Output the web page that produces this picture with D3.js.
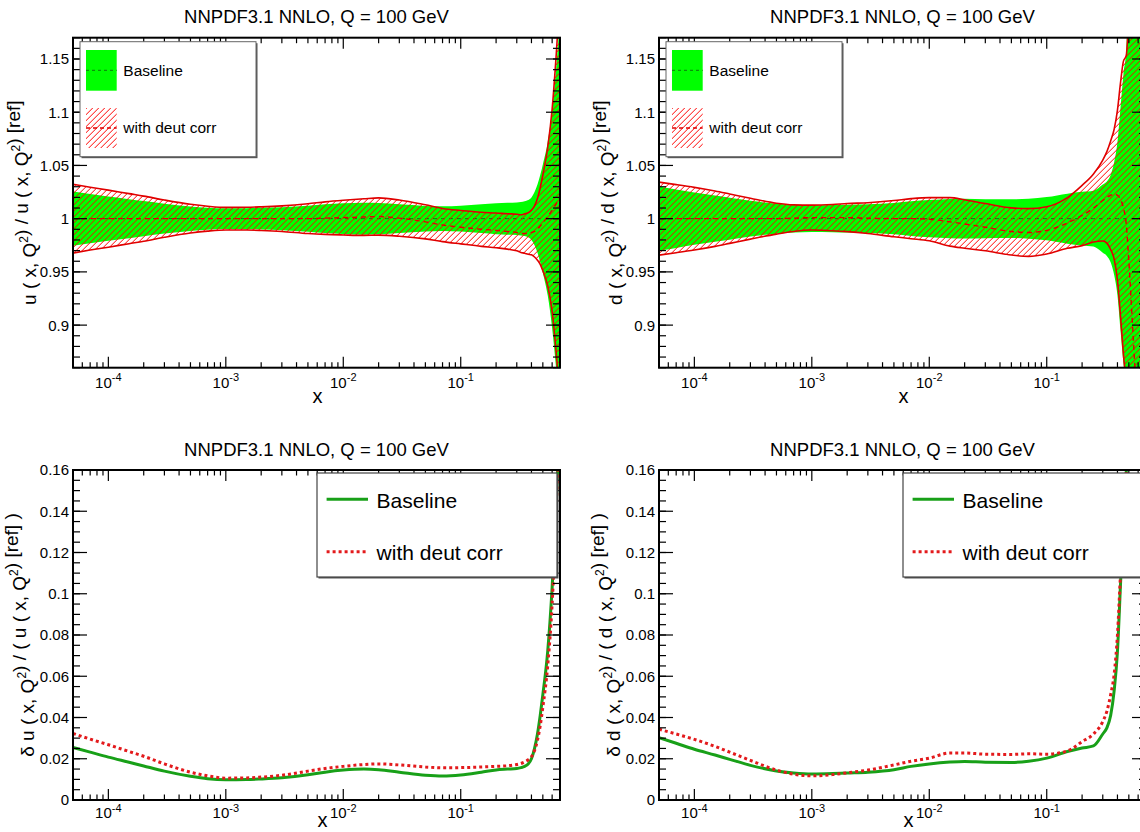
<!DOCTYPE html>
<html><head><meta charset="utf-8">
<script src="https://cdn.jsdelivr.net/npm/d3@7"></script>
<style>
body{margin:0;background:#fff}
svg{display:block}
text{font-family:"Liberation Sans",Arial,Helvetica,sans-serif;fill:#000}
</style></head>
<body><svg id="c" width="1140" height="832"></svg>
<script>
// ---------------- data ----------------
const xGrid = [5e-5, 7e-5, 1e-4, 1.5e-4, 2e-4, 3e-4, 5e-4, 7e-4, 1e-3, 1.5e-3, 2e-3, 3e-3, 5e-3, 7e-3,
  1e-2, 1.5e-2, 2e-2, 3e-2, 5e-2, 7e-2, 0.1, 0.15, 0.2, 0.25, 0.3, 0.325, 0.35, 0.375, 0.4, 0.425,
  0.45, 0.475, 0.5, 0.55, 0.6, 0.65, 0.7];

// u quark: relative uncertainties and central ratio
const uBaseErr = [0.0255, 0.0232, 0.0208, 0.0183, 0.0165, 0.0140, 0.0115, 0.0103, 0.0098, 0.0099, 0.0102, 0.0108, 0.0122, 0.0135,
  0.0145, 0.0150, 0.0147, 0.0135, 0.0120, 0.0116, 0.0121, 0.0135, 0.0146, 0.0150, 0.0153, 0.0157, 0.0163, 0.0175, 0.0200, 0.0250,
  0.032, 0.041, 0.051, 0.072, 0.103, 0.142, 0.19];
const uDeutErr = [0.0323, 0.0295, 0.0268, 0.0235, 0.0212, 0.0175, 0.0135, 0.0117, 0.0106, 0.0107, 0.0111, 0.0120, 0.0140, 0.0153,
  0.0163, 0.0172, 0.0175, 0.0170, 0.0160, 0.0156, 0.0157, 0.0160, 0.0163, 0.0166, 0.0172, 0.0177, 0.0185, 0.0195, 0.0210, 0.0240,
  0.029, 0.036, 0.045, 0.065, 0.095, 0.14, 0.19];
const uDeutCentral = [1.0, 1.0, 1.0, 1.0, 1.0, 1.0, 1.0, 1.0, 1.0, 1.0, 1.0, 1.0, 1.0, 1.0005,
  1.001, 1.0015, 1.002, 1.0005, 0.997, 0.994, 0.992, 0.990, 0.989, 0.988, 0.987, 0.986, 0.986, 0.986, 0.987, 0.988,
  0.990, 0.993, 0.996, 1.002, 1.008, 1.014, 1.02];

// d quark
const dBaseErr = [0.0302, 0.0275, 0.0246, 0.0218, 0.0197, 0.0168, 0.0141, 0.0131, 0.0126, 0.0128, 0.0131, 0.0135, 0.0147, 0.0163,
  0.0175, 0.0184, 0.0187, 0.0183, 0.0182, 0.0188, 0.0203, 0.0235, 0.0252, 0.0262, 0.032, 0.035, 0.041, 0.053, 0.072, 0.105,
  0.136, 0.158, 0.24, 0.38, 0.52, 0.68, 0.85];
const dDeutErr = [0.0343, 0.0320, 0.0294, 0.0260, 0.0232, 0.0192, 0.0145, 0.0125, 0.0117, 0.0123, 0.0132, 0.0145, 0.0170, 0.0188,
  0.0203, 0.0228, 0.0228, 0.0222, 0.0221, 0.0224, 0.0222, 0.0238, 0.0283, 0.032, 0.038, 0.043, 0.051, 0.061, 0.080, 0.110,
  0.138, 0.158, 0.23, 0.40, 0.55, 0.70, 0.85];
const dDeutCentral = [1.0, 1.0, 1.0, 1.0, 1.0, 1.0, 1.0, 1.0005, 1.001, 1.001, 1.001, 1.0005, 1.0, 1.0,
  0.9995, 0.997, 0.995, 0.992, 0.988, 0.987, 0.989, 0.996, 1.003, 1.010, 1.017, 1.020, 1.022, 1.023, 1.022, 1.018,
  1.010, 0.995, 0.96, 0.88, 0.81, 0.75, 0.70];

const xDomain = [5e-5, 0.7];
const xTickValues = [1e-4, 1e-3, 1e-2, 1e-1];
const xTickExponents = ["-4", "-3", "-2", "-1"];
const ratioDomain = [0.86, 1.17];
const ratioTicks = [0.9, 0.95, 1, 1.05, 1.1, 1.15];
const ratioTickLabels = ["0.9", "0.95", "1", "1.05", "1.1", "1.15"];
const relDomain = [0, 0.16];
const relTicks = [0, 0.02, 0.04, 0.06, 0.08, 0.1, 0.12, 0.14, 0.16];
const relTickLabels = ["0", "0.02", "0.04", "0.06", "0.08", "0.1", "0.12", "0.14", "0.16"];
const titleText = "NNPDF3.1 NNLO, Q = 100 GeV";
const seriesNames = ["Baseline", "with deut corr"];

// ---------------- layout ----------------
const W = 487, H = 330;
const svg = d3.select("#c");
const defs = svg.append("defs");
const pat = defs.append("pattern").attr("id", "hatch").attr("patternUnits", "userSpaceOnUse")
  .attr("width", 6).attr("height", 6);
pat.append("path").attr("d", "M-1,1 L1,-1 M0,6 L6,0 M5,7 L7,5")
  .attr("stroke", "#ff0000").attr("stroke-width", 1).attr("fill", "none");

const GREEN_FILL = "#00ff00", GREEN_DASH = "#0a7a0a", RED = "#e00000", GREEN_LINE = "#18a018", RED_DOT = "#e31a1c";

const panels = [
  {id: 0, x0: 73, y0: 37.7, kind: "ratio", q: "u", base: uBaseErr, deut: uDeutErr, cen: uDeutCentral},
  {id: 1, x0: 659, y0: 37.7, kind: "ratio", q: "d", base: dBaseErr, deut: dDeutErr, cen: dDeutCentral},
  {id: 2, x0: 73, y0: 470, kind: "rel", q: "u", base: uBaseErr, deut: uDeutErr, cen: uDeutCentral},
  {id: 3, x0: 659, y0: 470, kind: "rel", q: "d", base: dBaseErr, deut: dDeutErr, cen: dDeutCentral}
];

function addRich(textSel, segs, supSize, supShift) {
  segs.forEach(s => {
    if (s.sup) {
      textSel.append("tspan").attr("dy", -supShift).attr("font-size", supSize).text(s.t);
      textSel.append("tspan").attr("dy", supShift).text("");
    } else textSel.append("tspan").text(s.t);
  });
}

panels.forEach(p => {
  const g = svg.append("g").attr("transform", `translate(${p.x0},${p.y0})`);
  const x = d3.scaleLog().domain(xDomain).range([0, W]);
  const y = d3.scaleLinear().domain(p.kind === "ratio" ? ratioDomain : relDomain).range([H, 0]);
  const clipId = "clip" + p.id;
  defs.append("clipPath").attr("id", clipId).append("rect").attr("width", W).attr("height", H);
  const plot = g.append("g").attr("clip-path", `url(#${clipId})`);

  if (p.kind === "ratio") {
    const base = xGrid.map((v, i) => ({x: v, lo: 1 - p.base[i], hi: 1 + p.base[i], c: 1}));
    const deut = xGrid.map((v, i) => ({x: v, lo: p.cen[i] - p.deut[i], hi: p.cen[i] + p.deut[i], c: p.cen[i]}));
    const area = d3.area().x(d => x(d.x)).y0(d => y(d.lo)).y1(d => y(d.hi)).curve(d3.curveMonotoneX);
    const line = acc => d3.line().x(d => x(d.x)).y(d => y(acc(d))).curve(d3.curveMonotoneX);
    plot.append("path").attr("d", area(base)).attr("fill", GREEN_FILL);
    plot.append("path").attr("d", line(d => d.c)(base)).attr("fill", "none")
      .attr("stroke", GREEN_DASH).attr("stroke-width", 1).attr("stroke-dasharray", "4,4");
    plot.append("path").attr("d", area(deut)).attr("fill", "url(#hatch)");
    plot.append("path").attr("d", line(d => d.c)(deut)).attr("fill", "none")
      .attr("stroke", RED).attr("stroke-width", 1.4).attr("stroke-dasharray", "5,4");
    ["lo", "hi"].forEach(k => plot.append("path").attr("d", line(d => d[k])(deut)).attr("fill", "none")
      .attr("stroke", RED).attr("stroke-width", 1.6));
  } else {
    const mk = arr => xGrid.map((v, i) => ({x: v, v: arr[i]}));
    const line = d3.line().x(d => x(d.x)).y(d => y(d.v)).curve(d3.curveMonotoneX);
    plot.append("path").attr("d", line(mk(p.base))).attr("fill", "none")
      .attr("stroke", GREEN_LINE).attr("stroke-width", 3);
    plot.append("path").attr("d", line(mk(p.deut))).attr("fill", "none")
      .attr("stroke", RED_DOT).attr("stroke-width", 3).attr("stroke-dasharray", "3,3");
  }

  // ticks
  const tk = g.append("g").attr("stroke", "#000").attr("stroke-width", 1.2);
  xTickValues.forEach(v => {
    const px = x(v);
    tk.append("line").attr("x1", px).attr("x2", px).attr("y1", H).attr("y2", H - 11);
    tk.append("line").attr("x1", px).attr("x2", px).attr("y1", 0).attr("y2", 11);
  });
  for (let e = -5; e <= -1; e++) for (let k = 2; k <= 9; k++) {
    const v = k * Math.pow(10, e);
    if (v < xDomain[0] || v > xDomain[1]) continue;
    const px = x(v);
    tk.append("line").attr("x1", px).attr("x2", px).attr("y1", H).attr("y2", H - 5.5);
    tk.append("line").attr("x1", px).attr("x2", px).attr("y1", 0).attr("y2", 5.5);
  }
  const yt = p.kind === "ratio" ? ratioTicks : relTicks;
  const minorStep = p.kind === "ratio" ? 0.01 : 0.005;
  const dom = y.domain();
  for (let v = Math.ceil(dom[0] / minorStep - 1e-6) * minorStep; v <= dom[1] + 1e-9; v += minorStep) {
    const py = y(v);
    tk.append("line").attr("x1", 0).attr("x2", 7).attr("y1", py).attr("y2", py);
    tk.append("line").attr("x1", W).attr("x2", W - 7).attr("y1", py).attr("y2", py);
  }
  yt.forEach(v => {
    const py = y(v);
    tk.append("line").attr("x1", 0).attr("x2", 14).attr("y1", py).attr("y2", py);
    tk.append("line").attr("x1", W).attr("x2", W - 14).attr("y1", py).attr("y2", py);
  });

  // frame
  g.append("rect").attr("width", W).attr("height", H).attr("fill", "none")
    .attr("stroke", "#000").attr("stroke-width", 2);

  // y tick labels
  const ylabs = p.kind === "ratio" ? ratioTickLabels : relTickLabels;
  yt.forEach((v, i) => g.append("text").attr("x", -4).attr("y", y(v)).attr("dy", "0.36em")
    .attr("text-anchor", "end").attr("font-size", 15).text(ylabs[i]));

  // x tick labels
  const labOff = p.kind === "ratio" ? 20 : 18;
  xTickValues.forEach((v, i) => {
    const t = g.append("text").attr("x", x(v)).attr("y", H + labOff).attr("text-anchor", "middle").attr("font-size", 15);
    t.append("tspan").text("10");
    t.append("tspan").attr("dy", -6.5).attr("font-size", 11).text(xTickExponents[i]);
  });

  // axis titles
  g.append("text").attr("x", W / 2 + (p.kind === "ratio" ? 1 : 6)).attr("y", H + (p.kind === "ratio" ? 35 : 27))
    .attr("text-anchor", "middle").attr("font-size", 20).text("x");
  const yt2 = g.append("text").attr("transform", `translate(${p.kind === "ratio" ? -44 : -46},${H / 2}) rotate(-90)`)
    .attr("text-anchor", "middle").attr("dy", "0.35em").attr("font-size", 19);
  const q = p.q;
  const segs = p.kind === "ratio"
    ? [{t: q + " ( x, Q"}, {t: "2", sup: true}, {t: ") / " + q + " ( x, Q"}, {t: "2", sup: true}, {t: ") [ref]"}]
    : [{t: "\u03b4 " + q + " ( x, Q"}, {t: "2", sup: true}, {t: ") / ( " + q + " ( x, Q"}, {t: "2", sup: true}, {t: ") [ref] )"}];
  addRich(yt2, segs, 12, 8);

  // title
  g.append("text").attr("x", W / 2).attr("y", -14.5).attr("text-anchor", "middle").attr("font-size", 18.5).text(titleText);

  // legend
  if (p.kind === "ratio") {
    const lx = 7, ly = 4, lw = 176, lh = 115;
    g.append("rect").attr("x", lx + 1.5).attr("y", ly + 1.5).attr("width", lw).attr("height", lh).attr("fill", "#555");
    g.append("rect").attr("x", lx).attr("y", ly).attr("width", lw).attr("height", lh).attr("fill", "#fff")
      .attr("stroke", "#666").attr("stroke-width", 1);
    g.append("rect").attr("x", 13).attr("y", 12.3).attr("width", 30.7).attr("height", 40.7).attr("fill", GREEN_FILL);
    g.append("line").attr("x1", 13).attr("x2", 43.7).attr("y1", 32.6).attr("y2", 32.6)
      .attr("stroke", GREEN_DASH).attr("stroke-width", 1).attr("stroke-dasharray", "3,3");
    g.append("rect").attr("x", 13).attr("y", 70.3).attr("width", 30.7).attr("height", 40).attr("fill", "url(#hatch)");
    g.append("line").attr("x1", 13).attr("x2", 43.7).attr("y1", 90.3).attr("y2", 90.3)
      .attr("stroke", RED).attr("stroke-width", 1.4).attr("stroke-dasharray", "4,3");
    g.append("text").attr("x", 50.3).attr("y", 38.3).attr("font-size", 15.5).text(seriesNames[0]);
    g.append("text").attr("x", 50.3).attr("y", 95.6).attr("font-size", 15.5).text(seriesNames[1]);
  } else {
    const lx = 244, ly = 3, lw = 240, lh = 104;
    g.append("rect").attr("x", lx + 1.5).attr("y", ly + 1.5).attr("width", lw).attr("height", lh).attr("fill", "#555");
    g.append("rect").attr("x", lx).attr("y", ly).attr("width", lw).attr("height", lh).attr("fill", "#fff")
      .attr("stroke", "#444").attr("stroke-width", 1.2);
    g.append("line").attr("x1", 253.6).attr("x2", 295).attr("y1", 29.3).attr("y2", 29.3)
      .attr("stroke", GREEN_LINE).attr("stroke-width", 3);
    g.append("line").attr("x1", 253.6).attr("x2", 295).attr("y1", 81.7).attr("y2", 81.7)
      .attr("stroke", RED_DOT).attr("stroke-width", 3).attr("stroke-dasharray", "3,3");
    g.append("text").attr("x", 303.6).attr("y", 38).attr("font-size", 21).text(seriesNames[0]);
    g.append("text").attr("x", 303.6).attr("y", 90).attr("font-size", 21).text(seriesNames[1]);
  }
});
</script></body></html>
